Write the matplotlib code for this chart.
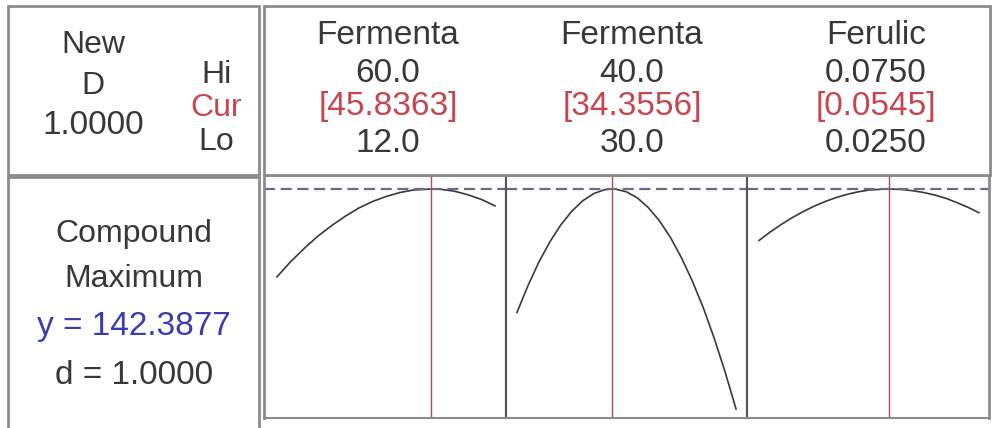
import matplotlib
matplotlib.use("Agg")
import matplotlib.pyplot as plt
from matplotlib.patches import Rectangle

W, H = 999, 428

# factor names and settings (Hi / Cur / Lo)
factor_names = ["Fermenta", "Fermenta", "Ferulic"]
hi_labels = ["60.0", "40.0", "0.0750"]
cur_labels = ["[45.8363]", "[34.3556]", "[0.0545]"]
lo_labels = ["12.0", "30.0", "0.0250"]
cur_values = [45.8363, 34.3556, 0.0545]

# predicted response traces
x_time1 = [12, 15, 18, 21, 24, 27, 30, 33, 36, 39, 42, 45.8363, 48, 51, 54, 57, 60]
y_time1 = [118.0, 122.2, 125.9, 129.3, 132.2, 134.8, 137.1, 138.9, 140.3, 141.4,
           142.1, 142.39, 142.3, 141.8, 140.8, 139.5, 137.7]

x_time2 = [30, 30.5, 31, 31.5, 32, 32.5, 33, 33.5, 34, 34.3556, 34.5, 35, 35.5,
           36, 36.5, 37, 37.5, 38, 38.5, 39, 39.5, 40]
y_time2 = [108.1, 115.5, 122.1, 127.7, 132.4, 136.2, 139.1, 141.1, 142.2, 142.39,
           142.35, 141.6, 139.9, 137.2, 133.6, 129.0, 123.4, 116.9, 109.5, 101.0,
           91.6, 81.3]

x_ferulic = [0.025, 0.0275, 0.030, 0.0325, 0.035, 0.0375, 0.040, 0.0425, 0.045,
             0.0475, 0.050, 0.0525, 0.0545, 0.0575, 0.060, 0.0625, 0.065, 0.0675,
             0.070, 0.0725, 0.075]
y_ferulic = [128.1, 130.4, 132.5, 134.4, 136.1, 137.6, 138.9, 140.0, 140.9, 141.6,
             142.1, 142.3, 142.39, 142.25, 141.9, 141.4, 140.7, 139.8, 138.6,
             137.3, 135.8]

y_opt = 142.3877
d_value = 1.0000

TXT = "#383838"
RED = "#c8454f"
BLUE = "#3c3cae"
BORDER = "#8c8c8c"

plt.rcParams["font.family"] = ["Liberation Sans", "DejaVu Sans"]

fig = plt.figure(figsize=(W / 100, H / 100), dpi=100)


def fx(x):
    return x / W


def fy(y):
    return 1 - y / H


def put(x, y, s, color=TXT, size=23):
    fig.text(fx(x), fy(y), s, color=color, fontsize=size, ha="center", va="center")


def box(x0, y0, x1, y1, lw=2.0, color=BORDER):
    fig.patches.append(Rectangle((fx(x0), fy(y1)), fx(x1) - fx(x0), fy(y0) - fy(y1),
                                 transform=fig.transFigure, fill=False,
                                 edgecolor=color, linewidth=lw))


# frames
box(8, 6, 259, 175)
box(264, 6, 990, 175)
box(8, 177, 259, 440)

# top-left block
put(93, 45, "New")
put(93, 86, "D")
put(93, 126, f"{d_value:.4f}", size=24)
put(216, 75, "Hi")
put(216, 108, "Cur", color=RED)
put(216, 142, "Lo")

# factor header columns
col_x = [388, 632, 876]
for cx, nm, hi, cur, lo in zip(col_x, factor_names, hi_labels, cur_labels, lo_labels):
    put(cx, 36, nm, size=24)
    put(cx, 73, hi, size=24)
    put(cx, 107, cur, color=RED, size=24)
    put(cx, 143, lo, size=24)

# bottom-left block
put(134, 234, "Compound")
put(134, 279, "Maximum")
put(134, 327, f"y = {y_opt:.4f}", color=BLUE, size=24)
put(134, 375, f"d = {d_value:.4f}", size=24)

# panels
panels = [
    (264, 506, x_time1, y_time1, (9.14, 62.42)),
    (506, 747, x_time2, y_time2, (29.5, 40.5)),
    (747, 989, x_ferulic, y_ferulic, (0.02227, 0.07727)),
]
ylim = (78.8, 146.0)
for i, (x0, x1, xs, ys, xl) in enumerate(panels):
    ax = fig.add_axes([fx(x0), fy(418), fx(x1) - fx(x0), fy(176) - fy(418)])
    ax.plot(xs, ys, color="#3a3a3a", lw=1.2)
    ax.axvline(cur_values[i], color="#b04a5a", lw=1.0)
    ax.axhline(y_opt, color="#6b6b88", lw=1.6, ls=(0, (5, 2.5)))
    ax.set_xlim(*xl)
    ax.set_ylim(*ylim)
    ax.set_xticks([])
    ax.set_yticks([])
    for side, sp in ax.spines.items():
        sp.set_color("#555555" if side in ("left", "right") else BORDER)
        sp.set_linewidth(1.5)
    if i == 0:
        ax.spines["left"].set_color(BORDER)
        ax.spines["left"].set_linewidth(2.0)
    if i == 2:
        ax.spines["right"].set_color(BORDER)
        ax.spines["right"].set_linewidth(2.0)

fig.savefig("out.png", dpi=100)
